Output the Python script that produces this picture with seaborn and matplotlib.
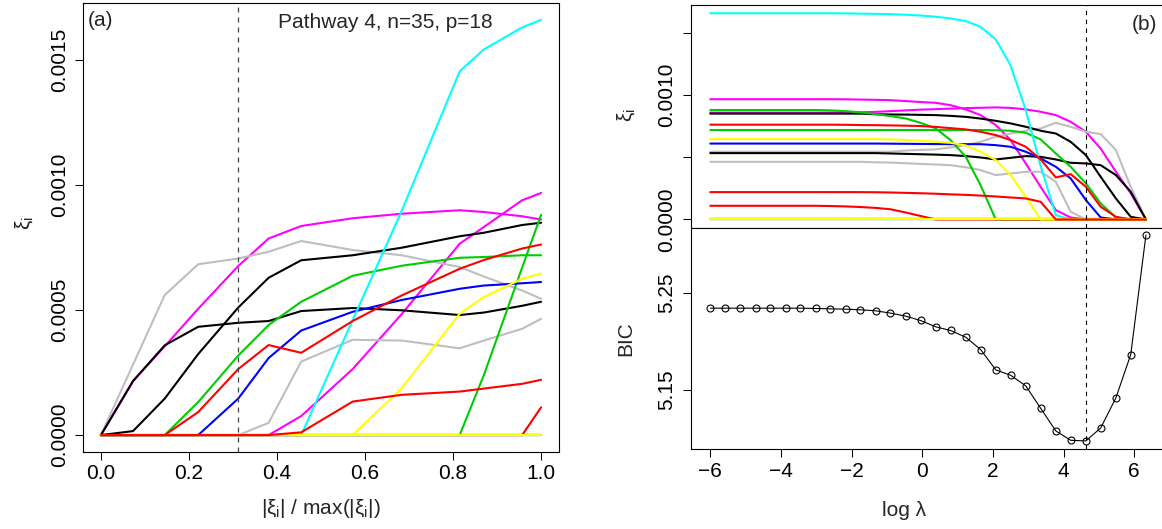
import matplotlib
matplotlib.use("Agg")
import matplotlib.pyplot as plt
import pandas as pd
import seaborn as sns

# ---------------------------------------------------------------- data
# Panel (a): coefficient paths against |xi| / max(|xi|)  (values in units of 1e-4)
frac_steps = [0.0, 0.073, 0.145, 0.221, 0.312, 0.381, 0.455, 0.572, 0.683, 0.815, 0.870, 0.957, 1.0]

a_black1 = [0, 2.16, 3.59, 4.33, 4.49, 4.56, 4.96, 5.08, 4.99, 4.80, 4.90, 5.17, 5.33]
a_black2 = [0, 0.16, 1.46, 3.24, 5.10, 6.29, 6.99, 7.19, 7.49, 7.95, 8.09, 8.40, 8.49]
a_black3 = [0, 0, 0, 0, 0, 0, 0, 0, 0, 0, 0, 0, 0]
a_red1 = [0, 0, 0, 0.92, 2.64, 3.60, 3.29, 4.56, 5.58, 6.65, 7.00, 7.46, 7.62]
a_red2 = [0, 0, 0, 0, 0, 0, 0.11, 1.34, 1.61, 1.74, 1.86, 2.05, 2.21]
a_red3 = [0, 0, 0, 0, 0, 0, 0, 0, 0, 0, 0, 0, 1.11]
a_green1 = [0, 0, 0, 1.32, 3.18, 4.40, 5.33, 6.37, 6.77, 7.09, 7.12, 7.19, 7.19]
a_green2 = [0, 0, 0, 0, 0, 0, 0, 0, 0, 0, 2.40, 6.70, 8.81]
a_blue1 = [0, 0, 0, 0, 1.46, 3.08, 4.18, 4.93, 5.40, 5.85, 5.98, 6.07, 6.12]
a_blue2 = [0, 0, 0, 0, 0, 0, 0, 0, 0, 0, 0, 0, 0]
a_cyan1 = [0, 0, 0, 0, 0, 0, 0, 4.60, 8.95, 14.54, 15.42, 16.30, 16.60]
a_cyan2 = [0, 0, 0, 0, 0, 0, 0, 0, 0, 0, 0, 0, 0]
a_magenta1 = [0, 2.16, 3.55, 5.05, 6.76, 7.86, 8.36, 8.67, 8.85, 8.99, 8.92, 8.75, 8.62]
a_magenta2 = [0, 0, 0, 0, 0, 0, 0.76, 2.64, 4.83, 7.65, 8.32, 9.39, 9.68]
a_yellow1 = [0, 0, 0, 0, 0, 0, 0, 0, 1.87, 4.85, 5.52, 6.25, 6.46]
a_yellow2 = [0, 0, 0, 0, 0, 0, 0, 0, 0, 0, 0, 0, 0]
a_gray1 = [0, 2.82, 5.60, 6.83, 7.06, 7.33, 7.76, 7.40, 7.19, 6.72, 6.34, 5.78, 5.45]
a_gray2 = [0, 0, 0, 0, 0, 0.49, 2.94, 3.81, 3.78, 3.47, 3.78, 4.25, 4.65]

# Panel (b): coefficient paths against log(lambda)  (values in units of 1e-4)
log_lambda = [-6.00, -5.57, -5.15, -4.72, -4.30, -3.87, -3.45, -3.02, -2.60, -2.17,
              -1.75, -1.32, -0.90, -0.47, -0.05, 0.38, 0.80, 1.23, 1.65, 2.08,
              2.50, 2.93, 3.35, 3.78, 4.20, 4.63, 5.05, 5.48, 5.90, 6.33]

b_black1 = [5.34] * 12 + [5.31, 5.28, 5.25, 5.22, 5.18, 5.10, 4.99, 4.83, 4.96, 5.10,
                          5.04, 4.83, 4.56, 4.51, 4.37, 3.57, 2.23, 0]
b_black2 = [8.52] * 11 + [8.47, 8.45, 8.44, 8.42, 8.40, 8.34, 8.26, 8.12, 7.94, 7.73,
                          7.46, 7.14, 6.92, 6.25, 5.18, 3.43, 1.69, 0.21, 0]
b_black3 = [0] * 30
b_red1 = [7.63] * 9 + [7.62, 7.60, 7.59, 7.57, 7.55, 7.52, 7.45, 7.35, 7.25, 7.06, 6.79,
                       6.39, 5.85, 4.83, 3.38, 3.65, 2.63, 1.02, 0.21, 0, 0]
b_red2 = [2.20] * 11 + [2.19, 2.17, 2.14, 2.11, 2.07, 2.02, 1.98, 1.92, 1.85, 1.77, 1.69,
                        1.42, 0, 0, 0, 0, 0, 0, 0]
b_red3 = [1.10] * 8 + [1.08, 1.05, 1.00, 0.93, 0.82, 0.56, 0.28] + [0] * 15
b_green1 = [7.20] * 19 + [7.18, 7.14, 6.98, 6.44, 5.31, 4.24, 2.90, 1.29, 0.16, 0, 0]
b_green2 = [8.81] * 8 + [8.78, 8.72, 8.62, 8.48, 8.32, 8.13, 7.78, 7.33, 6.39, 5.05, 2.76] + [0] * 11
b_blue1 = [6.11] * 12 + [6.10, 6.09, 6.08, 6.07, 6.06, 6.06, 6.06, 5.98, 5.85, 5.45, 4.91,
                         4.24, 3.30, 1.56, 0.16, 0, 0, 0]
b_blue2 = [0] * 30
b_cyan1 = [16.60] * 9 + [16.59, 16.57, 16.55, 16.53, 16.48, 16.42, 16.32, 16.18, 15.97, 15.51,
                         14.49, 12.40, 8.80, 4.30, 0.35, 0, 0, 0, 0, 0, 0]
b_cyan2 = [0] * 30
b_magenta1 = [8.60] * 10 + [8.62, 8.66, 8.72, 8.78, 8.84, 8.88, 8.92, 8.96, 8.99, 9.02, 8.98,
                            8.86, 8.67, 8.40, 7.86, 7.06, 5.70, 3.85, 2.10, 0]
b_magenta2 = [9.68] * 9 + [9.67, 9.65, 9.63, 9.60, 9.53, 9.45, 9.39, 9.20, 8.86, 8.40, 7.60,
                           6.39, 4.50, 2.63, 0.75, 0.16, 0, 0, 0, 0, 0]
b_yellow1 = [6.47] * 12 + [6.44, 6.40, 6.33, 6.25, 6.17, 5.96, 5.45, 4.78, 3.57, 1.82] + [0] * 8
b_yellow2 = [0] * 30
b_gray1 = [5.45] * 13 + [5.55, 5.60, 5.64, 5.80, 5.98, 6.25, 6.66, 6.92, 7.14, 7.33, 7.78,
                         7.46, 7.06, 6.87, 5.58, 2.63, 0]
b_gray2 = [4.64] * 11 + [4.60, 4.58, 4.53, 4.47, 4.42, 4.37, 4.20, 3.97, 3.57, 3.70, 3.84,
                         3.84, 3.03, 0.62, 0, 0, 0, 0, 0]

# BIC along the lambda grid
bic = [5.2345, 5.2345, 5.2345, 5.2345, 5.2345, 5.2345, 5.2345, 5.2342, 5.2338, 5.2335,
       5.2328, 5.2318, 5.2294, 5.2263, 5.2218, 5.2153, 5.2115, 5.2046, 5.1919, 5.1709,
       5.1654, 5.1544, 5.1314, 5.1080, 5.0984, 5.0977, 5.1111, 5.1421, 5.1867, 5.3098]

selected_frac = 0.312
selected_log_lambda = 4.63

var_names = ["black1", "black2", "black3", "red1", "red2", "red3", "green1", "green2",
             "blue1", "blue2", "cyan1", "cyan2", "magenta1", "magenta2", "yellow1",
             "yellow2", "gray1", "gray2"]
r_colors = {"black": "#000000", "red": "#FF0000", "green": "#00CD00", "blue": "#0000FF",
            "cyan": "#00FFFF", "magenta": "#FF00FF", "yellow": "#FFFF00", "gray": "#BEBEBE"}
draw_order = ["black3", "blue2", "cyan2", "magenta1", "magenta2", "gray1", "gray2",
              "black1", "black2", "green1", "green2", "blue1", "cyan1", "red1", "red3",
              "yellow2", "yellow1", "red2"]

paths_a = {n: globals()["a_" + n] for n in var_names}
paths_b = {n: globals()["b_" + n] for n in var_names}
palette = {n: r_colors[n.rstrip("0123456789")] for n in var_names}

rows_a = [(n, x, v * 1e-4) for n in var_names for x, v in zip(frac_steps, paths_a[n])]
rows_b = [(n, x, v * 1e-4) for n in var_names for x, v in zip(log_lambda, paths_b[n])]
df_a = pd.DataFrame(rows_a, columns=["var", "x", "coef"])
df_b = pd.DataFrame(rows_b, columns=["var", "x", "coef"])
df_bic = pd.DataFrame({"x": log_lambda, "bic": bic})

# ---------------------------------------------------------------- style
sns.set_theme(style="ticks")
plt.rcParams["font.family"] = ["Liberation Sans", "DejaVu Sans"]
plt.rcParams["mathtext.fontset"] = "custom"
plt.rcParams["mathtext.rm"] = "Liberation Sans"
plt.rcParams["mathtext.it"] = "Liberation Sans:italic"
plt.rcParams["axes.unicode_minus"] = True

FS = 15
W, H = 1162, 529
fig = plt.figure(figsize=(W / 100, H / 100), dpi=100)
fig.patch.set_facecolor("white")


def px_axes(l, t, r, b):
    return fig.add_axes([l / W, 1 - b / H, (r - l) / W, (b - t) / H])


axA = px_axes(83.3, 3.3, 558.7, 451.7)
axB = px_axes(691, 5, 1163.6, 227.7)
axC = px_axes(691, 227.7, 1163.6, 449.3)

for ax in (axA, axB, axC):
    ax.set_facecolor("white")
    for s in ax.spines.values():
        s.set_visible(True)
        s.set_linewidth(0.8)
        s.set_color("black")
    ax.tick_params(direction="out", length=6.1, width=0.75, color="black",
                   labelsize=FS, labelcolor="black")
    ax.tick_params(axis="x", pad=3.0)
    ax.tick_params(axis="y", pad=4.4)

# ---------------------------------------------------------------- panel (a)
sns.lineplot(data=df_a, x="x", y="coef", hue="var", hue_order=draw_order, palette=palette,
             estimator=None, sort=False, legend=False, linewidth=1.5, ax=axA)
axA.axvline(selected_frac, color="#444444", linewidth=0.9, linestyle=(0, (4, 4)))
axA.set_xlim(-0.04, 1.04)
axA.set_ylim(-0.0000664, 0.0017264)
axA.set_xticks([0.0, 0.2, 0.4, 0.6, 0.8, 1.0], labels=["0.0", "0.2", "0.4", "0.6", "0.8", "1.0"])
axA.set_yticks([0.0, 0.0005, 0.0010, 0.0015],
               labels=["0.0000", "0.0005", "0.0010", "0.0015"], rotation=90, va="center")
axA.set_xlabel("|ξ$_\\mathrm{i}$| / max(|ξ$_\\mathrm{i}$|)", fontsize=FS, va="center")
axA.xaxis.set_label_coords(0.5, (451.7 - 509) / 448.4)
axA.set_ylabel("ξ$_\\mathrm{i}$", fontsize=FS, va="center")
axA.yaxis.set_label_coords((24 - 83.3) / 475.4, 0.51)

fig.text(100.8 / W, 1 - 20 / H, "(a)", fontsize=FS, ha="center", va="center")
fig.text(385 / W, 1 - 22 / H, "Pathway 4, n=35, p=18", fontsize=FS, ha="center", va="center")

# ---------------------------------------------------------------- panel (b) top
sns.lineplot(data=df_b, x="x", y="coef", hue="var", hue_order=draw_order, palette=palette,
             estimator=None, sort=False, legend=False, linewidth=1.5, ax=axB)
axB.axvline(selected_log_lambda, color="black", linewidth=0.8, linestyle=(0, (4, 4)))
axB.set_xlim(-6.546, 6.83)
axB.set_ylim(-0.0000664, 0.0017264)
axB.set_yticks([0.0, 0.0005, 0.0010, 0.0015],
               labels=["0.0000", "", "0.0010", ""], rotation=90, va="center")
axB.tick_params(axis="x", bottom=False, labelbottom=False)
axB.set_xlabel("")
axB.set_ylabel("ξ$_\\mathrm{i}$", fontsize=FS, va="center")
axB.yaxis.set_label_coords((626 - 691) / 472.6, 0.506)
fig.text(1144 / W, 1 - 24 / H, "(b)", fontsize=FS, ha="center", va="center")

# ---------------------------------------------------------------- panel (b) bottom: BIC
sns.lineplot(data=df_bic, x="x", y="bic", color="black", linewidth=0.8, estimator=None,
             sort=False, marker="o", markersize=5.0, markerfacecolor="none",
             mec="black", mew=0.8, ax=axC)
axC.axvline(selected_log_lambda, color="black", linewidth=0.8, linestyle=(0, (4, 4)))
axC.set_xlim(-6.546, 6.83)
axC.set_ylim(5.0891, 5.3174)
axC.set_xticks([-6, -4, -2, 0, 2, 4, 6])
axC.set_yticks([5.15, 5.25], labels=["5.15", "5.25"], rotation=90, va="center")
axC.set_xlabel("log λ", fontsize=FS, va="center")
axC.xaxis.set_label_coords((904 - 691) / 472.6, (449.3 - 510) / 221.6)
axC.set_ylabel("BIC", fontsize=FS, va="center")
axC.yaxis.set_label_coords((626 - 691) / 472.6, 0.5)

fig.savefig("out.png", dpi=100, facecolor="white")
